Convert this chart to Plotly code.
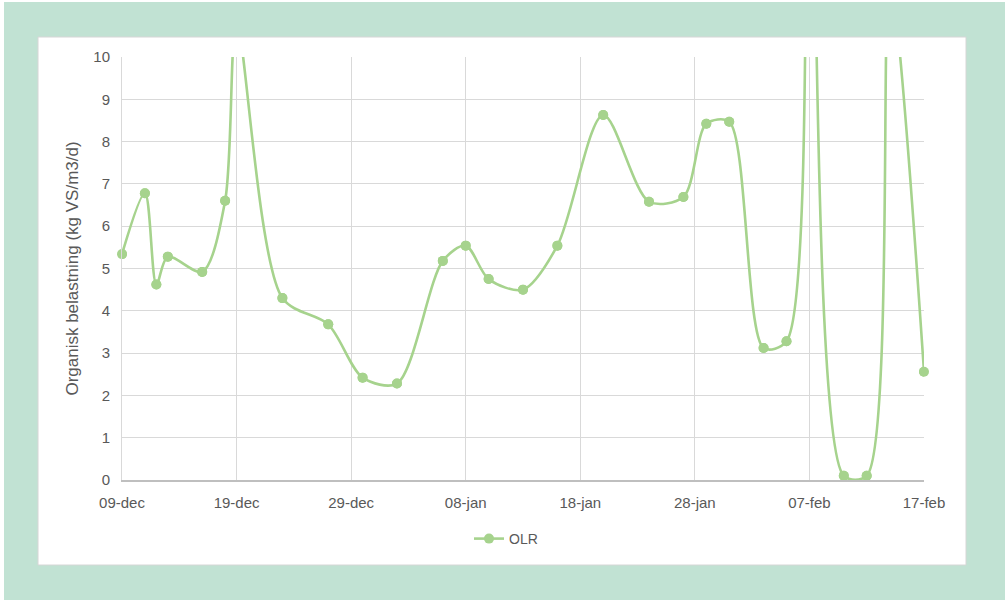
import plotly.graph_objects as go

# Daily organic loading rate (OLR) readings
dates = ["2019-12-09", "2019-12-11", "2019-12-12", "2019-12-13", "2019-12-16",
         "2019-12-18", "2019-12-19", "2019-12-23", "2019-12-27", "2019-12-30",
         "2020-01-02", "2020-01-06", "2020-01-08", "2020-01-10", "2020-01-13",
         "2020-01-16", "2020-01-20", "2020-01-24", "2020-01-27", "2020-01-29",
         "2020-01-31", "2020-02-03", "2020-02-05", "2020-02-07", "2020-02-10",
         "2020-02-12", "2020-02-14", "2020-02-17"]
olr = [5.34, 6.78, 4.62, 5.28, 4.92, 6.6, 10.8, 4.3, 3.68, 2.42,
       2.28, 5.18, 5.54, 4.75, 4.5, 5.54, 8.63, 6.58, 6.69, 8.42,
       8.47, 3.12, 3.28, 16.0, 0.1, 0.1, 11.8, 2.56]

tick_dates = ["2019-12-09", "2019-12-19", "2019-12-29", "2020-01-08",
              "2020-01-18", "2020-01-28", "2020-02-07", "2020-02-17"]
tick_labels = ["09-dec", "19-dec", "29-dec", "08-jan", "18-jan", "28-jan",
               "07-feb", "17-feb"]
y_max = 10

GREEN = "#A6D38D"
GRID = "#D9D9D9"
TEXT = "#595959"
FONT = "Liberation Sans, sans-serif"

W, H = 1005, 600
L, R, T, B = 122, 81, 57, 120
pw, ph = W - L - R, H - T - B


def px_x(p):
    return (p - L) / pw


def px_y(p):
    return (H - B - p) / ph


fig = go.Figure()

fig.add_trace(go.Scatter(
    x=dates, y=olr, name="OLR", mode="lines+markers",
    line=dict(color=GREEN, width=2.6, shape="spline", smoothing=0.85),
    marker=dict(color=GREEN, size=10),
    cliponaxis=True,
))

# markers inside the value range, drawn unclipped so edge points stay whole
fig.add_trace(go.Scatter(
    x=dates, y=[v if v <= y_max else None for v in olr],
    mode="markers", marker=dict(color=GREEN, size=10),
    showlegend=False, cliponaxis=False, hoverinfo="skip",
))

shapes = [
    # mint page background
    dict(type="rect", xref="paper", yref="paper", layer="below",
         x0=px_x(4), x1=px_x(W + 5), y0=px_y(2), y1=px_y(H + 5),
         fillcolor="#C1E2D3", line=dict(width=0)),
    # white chart card
    dict(type="rect", xref="paper", yref="paper", layer="below",
         x0=px_x(38), x1=px_x(966), y0=px_y(37), y1=px_y(565),
         fillcolor="white", line=dict(color="#D6D6D6", width=1)),
]

fig.update_layout(
    width=W, height=H,
    margin=dict(l=L, r=R, t=T, b=B),
    paper_bgcolor="white", plot_bgcolor="white",
    shapes=shapes,
    font=dict(family=FONT, color=TEXT, size=14),
    showlegend=True,
    legend=dict(orientation="h", x=px_x(506), xanchor="center",
                y=px_y(539), yanchor="middle",
                font=dict(size=14, color=TEXT), bgcolor="rgba(0,0,0,0)"),
    xaxis=dict(
        type="date", range=[tick_dates[0], tick_dates[-1]],
        tickvals=tick_dates, ticktext=tick_labels,
        showgrid=True, gridcolor=GRID, gridwidth=1,
        showline=True, linecolor="#BFBFBF", linewidth=1.5,
        zeroline=False, ticks="", ticklabelstandoff=8,
        tickfont=dict(size=15, color=TEXT),
    ),
    yaxis=dict(
        range=[0, y_max], dtick=1, tick0=0,
        showgrid=True, gridcolor=GRID, gridwidth=1,
        showline=True, linecolor=GRID, linewidth=1,
        zeroline=False, ticks="", ticklabelstandoff=8,
        tickfont=dict(size=15, color=TEXT),
        title=dict(text="Organisk belastning (kg VS/m3/d)",
                   font=dict(size=17, color=TEXT), standoff=10),
    ),
)

fig.write_html("out.html")
